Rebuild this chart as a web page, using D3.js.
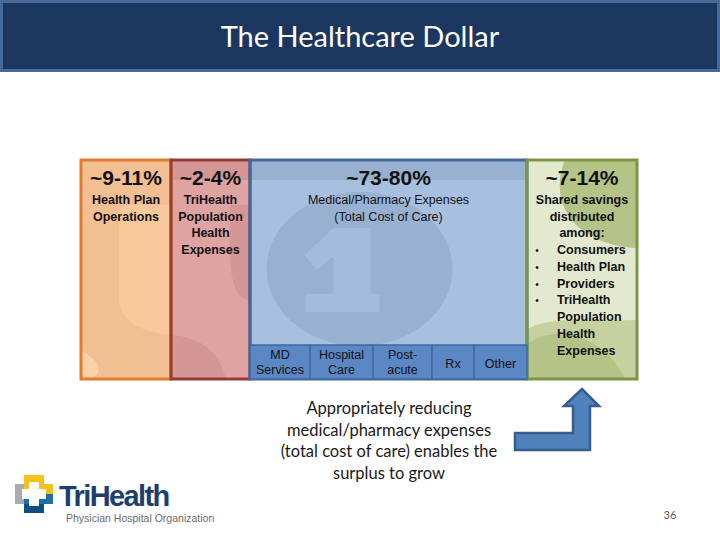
<!DOCTYPE html>
<html>
<head>
<meta charset="utf-8">
<script src="https://cdn.jsdelivr.net/npm/d3@7"></script>
<style>
  html, body { margin: 0; padding: 0; background: #ffffff; }
  svg { display: block; }
</style>
</head>
<body>
<div id="chart"></div>
<script>
// ---------------- data ----------------
const titleText = "The Healthcare Dollar";
const panelKeys = ["plan", "popHealth", "medical", "shared"];
const panelRanges = ["~9-11%", "~2-4%", "~73-80%", "~7-14%"];
const panelLow = [9, 2, 73, 7];
const panelHigh = [11, 4, 80, 14];
const panelDescriptions = [
  ["Health Plan", "Operations"],
  ["TriHealth", "Population", "Health", "Expenses"],
  ["Medical/Pharmacy Expenses", "(Total Cost of Care)"],
  ["Shared savings", "distributed", "among:"]
];
const sharedRecipients = [
  ["Consumers"],
  ["Health Plan"],
  ["Providers"],
  ["TriHealth", "Population", "Health", "Expenses"]
];
const careCategories = [
  ["MD", "Services"],
  ["Hospital", "Care"],
  ["Post-", "acute"],
  ["Rx"],
  ["Other"]
];
const footnoteLines = [
  "Appropriately reducing",
  "medical/pharmacy expenses",
  "(total cost of care) enables the",
  "surplus to grow"
];
const pageNumber = "36";
const logoName = "TriHealth";
const logoSub = "Physician Hospital Organization";

// ---------------- layout / style ----------------
const W = 720, H = 540;
const layout = {
  panelWeights: [90, 79, 277, 110],
  careWeights: [60, 63, 59, 42, 53],
  left: 81, right: 637, top: 160, bottom: 379, careTop: 345
};
const style = {
  fill: ["#f9c99c", "#dfa3a2", "#a8c0e0", "#e3e9cf"],
  shade: ["#f1bf91", "#d59796", "#98b1d0", "#b4c386"],
  stroke: ["#e27c2c", "#963a37", "#41699b", "#7c9744"],
  careFill: "#5b87c4", careStroke: "#3f6aa1",
  font: "'Liberation Sans Narrow', 'Liberation Sans', Arial, sans-serif",
  bodyFont: "Lato, 'Open Sans', sans-serif"
};

const svg = d3.select("#chart").append("svg")
  .attr("width", W).attr("height", H)
  .attr("viewBox", `0 0 ${W} ${H}`);

// ---------------- title bar ----------------
svg.append("rect").attr("x", 1.5).attr("y", 1.5).attr("width", W - 3).attr("height", 69)
  .attr("fill", "#1b375f").attr("stroke", "#46699a").attr("stroke-width", 3);
svg.append("text").attr("x", W / 2).attr("y", 47)
  .attr("text-anchor", "middle").attr("fill", "#ffffff")
  .attr("font-family", style.bodyFont).attr("font-size", 29)
  .text(titleText);

// ---------------- panels ----------------
const totalW = d3.sum(layout.panelWeights);
const xw = d3.scaleLinear().domain([0, totalW]).range([layout.left, layout.right]);
const cum = [0, ...d3.cumsum(layout.panelWeights)];
const panels = panelKeys.map((k, i) => ({
  key: k, i, x0: xw(cum[i]), x1: xw(cum[i + 1]),
  range: panelRanges[i], low: panelLow[i], high: panelHigh[i], desc: panelDescriptions[i]
}));

const gP = svg.append("g");
panels.forEach(p => {
  const g = gP.append("g");
  const clipId = "clip-" + p.key;
  svg.append("clipPath").attr("id", clipId).append("rect")
    .attr("x", p.x0).attr("y", layout.top).attr("width", p.x1 - p.x0).attr("height", layout.bottom - layout.top);
  g.append("rect").attr("x", p.x0).attr("y", layout.top)
    .attr("width", p.x1 - p.x0).attr("height", layout.bottom - layout.top)
    .attr("fill", style.fill[p.i]);
  const deco = g.append("g").attr("clip-path", `url(#${clipId})`);
  const sh = style.shade[p.i];
  if (p.key === "plan") {
    deco.append("path").attr("fill", sh)
      .attr("d", `M${p.x0},${layout.top} H${p.x1} V205 H${p.x0 + 48} Q${p.x0 + 38},205 ${p.x0 + 38},215 V300 Q${p.x0 + 40},330 ${p.x1},335 V${layout.bottom} H${p.x0} Z`);
    deco.append("path").attr("fill", "#fad1aa")
      .attr("d", `M${p.x0},350 Q${p.x0 + 30},368 ${p.x0 + 10},${layout.bottom} H${p.x0} Z`);
  } else if (p.key === "popHealth") {
    deco.append("path").attr("fill", sh)
      .attr("d", `M${p.x0},${layout.top} H${p.x1} V180 H${p.x0} Z`);
    deco.append("path").attr("fill", sh)
      .attr("d", `M${p.x0},335 Q${p.x0 + 45},338 ${p.x0 + 55},${layout.bottom} H${p.x1} V300 Q${p.x1 - 20},300 ${p.x1 - 20},250 V205 H${p.x1} V${layout.bottom} H${p.x0} Z`);
  } else if (p.key === "medical") {
    deco.append("rect").attr("x", p.x0).attr("y", layout.top).attr("width", p.x1 - p.x0).attr("height", 20).attr("fill", sh);
    const cx = (p.x0 + p.x1) / 2 - 29;
    deco.append("ellipse").attr("cx", cx).attr("cy", 269).attr("rx", 93).attr("ry", 77).attr("fill", sh);
    // watermark numeral "1" drawn as a shape
    deco.append("path").attr("fill", "#a4bcdb")
      .attr("d", `M${cx - 26},228 H${cx + 11} V294 H${cx + 20} V312 H${cx - 54} V294 H${cx - 26} V256 L${cx - 43},270 L${cx - 55},255 Z`);
  } else {
    deco.append("rect").attr("x", p.x0).attr("y", layout.top).attr("width", p.x1 - p.x0).attr("height", layout.bottom - layout.top).attr("fill", "#c5d2a0");
    deco.append("path").attr("fill", style.fill[p.i])
      .attr("d", `M${p.x0},${layout.top} H${p.x0 + 38} C${p.x0 + 20},205 ${p.x0 + 50},245 ${p.x1},248 V320 C${p.x1 - 40},322 ${p.x1 - 90},315 ${p.x0},330 Z`);
    deco.append("path").attr("fill", sh)
      .attr("d", `M${p.x0 + 38},${layout.top} H${p.x1} V248 C${p.x0 + 50},245 ${p.x0 + 20},205 ${p.x0 + 38},${layout.top} Z`);
    deco.append("path").attr("fill", sh)
      .attr("d", `M${p.x0},345 C${p.x0 + 20},325 ${p.x0 + 75},330 ${p.x1 - 12},${layout.bottom} H${p.x0} Z`);
  }
});

// ---------------- care categories row ----------------
const medical = panels[2];
const cw = d3.scaleLinear().domain([0, d3.sum(layout.careWeights)]).range([medical.x0, medical.x1]);
const ccum = [0, ...d3.cumsum(layout.careWeights)];
const gC = svg.append("g");
careCategories.forEach((lines, i) => {
  const x0 = cw(ccum[i]), x1 = cw(ccum[i + 1]);
  gC.append("rect").attr("x", x0).attr("y", layout.careTop)
    .attr("width", x1 - x0).attr("height", layout.bottom - layout.careTop)
    .attr("fill", style.careFill).attr("stroke", style.careStroke).attr("stroke-width", 1.5);
  const cxm = (x0 + x1) / 2;
  const baseY = lines.length === 1 ? 368 : 359;
  lines.forEach((t, j) => {
    gC.append("text").attr("x", cxm).attr("y", baseY + j * 15)
      .attr("text-anchor", "middle").attr("font-family", style.font)
      .attr("font-size", 12.5).attr("fill", "#111").text(t);
  });
});

// panel borders on top
panels.forEach(p => {
  gP.append("rect").attr("x", p.x0).attr("y", layout.top)
    .attr("width", p.x1 - p.x0).attr("height", layout.bottom - layout.top)
    .attr("fill", "none").attr("stroke", style.stroke[p.i]).attr("stroke-width", 3);
});

// ---------------- panel texts ----------------
const gT = svg.append("g");
panels.forEach(p => {
  const cxm = (p.x0 + p.x1) / 2;
  gT.append("text").attr("x", cxm).attr("y", 185)
    .attr("text-anchor", "middle").attr("font-family", style.font)
    .attr("font-weight", "bold").attr("font-size", 21).attr("fill", "#111")
    .text(p.range);
  p.desc.forEach((t, j) => {
    gT.append("text").attr("x", cxm).attr("y", 204 + j * 16.7)
      .attr("text-anchor", "middle").attr("font-family", style.font)
      .attr("font-weight", p.key === "medical" ? "normal" : "bold")
      .attr("font-size", 12.5).attr("fill", "#111").text(t);
  });
});
// shared savings recipients list
const shared = panels[3];
let line = 0;
sharedRecipients.forEach(lines => {
  lines.forEach((t, j) => {
    const yy = 254 + line * 16.8;
    if (j === 0) {
      gT.append("text").attr("x", shared.x0 + 10).attr("y", yy)
        .attr("text-anchor", "middle").attr("font-family", style.font)
        .attr("font-size", 10).attr("fill", "#111").text("•");
    }
    gT.append("text").attr("x", shared.x0 + 30).attr("y", yy)
      .attr("font-family", style.font).attr("font-weight", "bold")
      .attr("font-size", 12.5).attr("fill", "#111").text(t);
    line++;
  });
});

// ---------------- footnote + arrow ----------------
footnoteLines.forEach((t, j) => {
  svg.append("text").attr("x", 389).attr("y", 414 + j * 21.5)
    .attr("text-anchor", "middle").attr("font-family", style.bodyFont)
    .attr("font-size", 16.5).attr("fill", "#1a1a1a").text(t);
});
svg.append("path")
  .attr("d", "M515,433 H573 V406 H564 L582,389 L599,406 H590 V450 H515 Z")
  .attr("fill", "#4f81bd").attr("stroke", "#385d8a").attr("stroke-width", 2.5)
  .attr("stroke-linejoin", "miter");

// ---------------- logo ----------------
const logo = svg.append("g").attr("transform", "translate(34,494)");
const plus = (a, b) => `M${-a},${-b} V${-b} H${-a} V${-a} H${-b} V${a} H${-a} V${b} H${a} V${a} H${b} V${-a} H${a} V${-b} Z`;
logo.append("path").attr("d", plus(10, 19)).attr("fill", "#1f6ea9");
logo.append("path").attr("d", "M-10,-19 H10 V-10 H19 V0 H-10 Z").attr("fill", "#f5c21b");
logo.append("path").attr("d", "M-19,-10 H-10 V10 H-19 Z").attr("fill", "#a9abae");
logo.append("path").attr("d", "M-10,10 H10 V19 H-10 Z").attr("fill", "#0d4e84");
logo.append("path").attr("d", plus(5, 12)).attr("fill", "#ffffff");
svg.append("text").attr("x", 59).attr("y", 506)
  .attr("font-family", "'Liberation Sans', Arial, sans-serif").attr("font-size", 29)
  .attr("font-weight", "bold")
  .attr("letter-spacing", -1.6).attr("fill", "#1c3f6e").text(logoName);
svg.append("text").attr("x", 66).attr("y", 522)
  .attr("font-family", "'Liberation Sans', Arial, sans-serif").attr("font-size", 10.5)
  .attr("fill", "#6b6b6b").text(logoSub);

svg.append("text").attr("x", 670).attr("y", 519).attr("text-anchor", "middle")
  .attr("font-family", style.bodyFont).attr("font-size", 11).attr("fill", "#595959")
  .text(pageNumber);
</script>
</body>
</html>
